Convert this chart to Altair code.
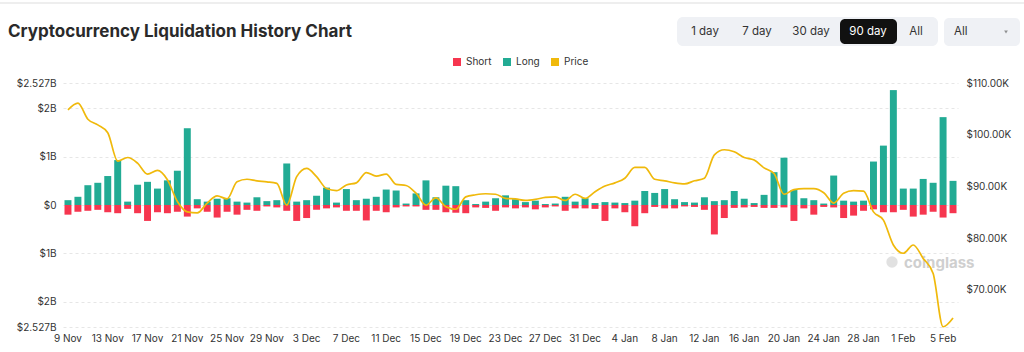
import altair as alt
import pandas as pd

# ---------------- data ----------------
dates = pd.date_range("2025-11-09", periods=90)
day_labels = [f"{d.day} {d.strftime('%b')}" for d in dates]
tick_labels = day_labels[::4]

long_vals = [0.10, 0.17, 0.41, 0.46, 0.60, 0.93, 0.07, 0.42, 0.48, 0.34, 0.51, 0.71, 1.59, 0.12, 0.07, 0.13, 0.14, 0.07, 0.05, 0.16, 0.08, 0.10, 0.86, 0.07,
             0.10, 0.19, 0.36, 0.05, 0.33, 0.10, 0.13, 0.17, 0.32, 0.30, 0.03, 0.24, 0.51, 0.16, 0.40, 0.39, 0.10, 0.02, 0.07, 0.14, 0.20, 0.12, 0.06, 0.09, 0.02,
             0.03, 0.17, 0.07, 0.14, 0.04, 0.06, 0.05, 0.04, 0.09, 0.29, 0.25, 0.33, 0.12, 0.06, 0.05, 0.16, 0.08, 0.10, 0.29, 0.13, 0.04, 0.21, 0.68, 0.98, 0.31,
             0.14, 0.10, 0.03, 0.61, 0.09, 0.07, 0.09, 0.90, 1.23, 2.38, 0.34, 0.34, 0.54, 0.46, 1.82, 0.50]

short_vals = [0.20, 0.14, 0.12, 0.10, 0.15, 0.17, 0.08, 0.17, 0.33, 0.15, 0.17, 0.14, 0.24, 0.07, 0.14, 0.26, 0.14, 0.20, 0.10, 0.12, 0.03, 0.05, 0.12, 0.33,
              0.27, 0.10, 0.07, 0.05, 0.12, 0.12, 0.32, 0.12, 0.15, 0.05, 0.03, 0.03, 0.10, 0.10, 0.15, 0.16, 0.17, 0.05, 0.06, 0.12, 0.05, 0.07, 0.05, 0.09, 0.05,
              0.03, 0.12, 0.07, 0.07, 0.08, 0.33, 0.07, 0.15, 0.44, 0.17, 0.04, 0.07, 0.07, 0.03, 0.04, 0.10, 0.61, 0.27, 0.06, 0.05, 0.04, 0.06, 0.06, 0.05, 0.33,
              0.07, 0.20, 0.04, 0.05, 0.27, 0.22, 0.12, 0.09, 0.15, 0.15, 0.10, 0.24, 0.20, 0.14, 0.26, 0.17]

price_k = [104.8, 106.1, 103.0, 101.9, 100.4, 94.9, 95.6, 94.5, 92.4, 93.1, 91.3, 87.1, 85.1, 84.9, 86.8, 88.2, 87.6, 90.9, 91.4, 91.1, 90.9, 90.6, 86.4, 91.9,
           93.5, 91.9, 89.6, 89.2, 90.3, 90.7, 92.7, 92.0, 92.4, 90.4, 90.2, 88.7, 86.4, 87.8, 86.1, 85.6, 88.0, 88.4, 88.6, 88.5, 87.7, 87.6, 87.3, 87.5, 87.9,
           88.0, 87.3, 88.5, 87.7, 89.0, 90.1, 90.7, 91.6, 93.7, 93.7, 91.4, 91.1, 90.7, 90.5, 91.1, 91.6, 96.1, 97.1, 96.7, 95.6, 95.1, 93.6, 92.5, 88.5, 89.4,
           89.6, 89.6, 88.8, 86.8, 88.7, 89.2, 89.1, 85.1, 83.5, 78.7, 77.1, 78.7, 76.1, 73.2, 62.9, 64.6]

series_names = ["Short", "Long", "Price"]
left_ticks = [-2.527, -2, -1, 0, 1, 2, 2.527]
right_ticks = [70, 80, 90, 100, 110]

bars_df = pd.DataFrame({
    "day": day_labels * 2,
    "type": ["Long"] * 90 + ["Short"] * 90,
    "value": long_vals + [-v for v in short_vals],
})
price_df = pd.DataFrame({"day": day_labels, "price": price_k})

# ---------------- style ----------------
FONT = "Inter"
RED = "#f6364f"
GREEN = "#22ab94"
YELLOW = "#f0b90b"
TXT = "#333333"

x_enc = alt.X(
    "day:O", sort=day_labels,
    scale=alt.Scale(paddingInner=0.3),
    axis=alt.Axis(values=tick_labels, title=None, labelAngle=0, domain=False, ticks=False,
                  labelPadding=6, labelFontSize=10, labelColor=TXT, labelFont=FONT, grid=False),
)

bars = alt.Chart(bars_df).mark_bar().encode(
    x=x_enc,
    y=alt.Y("value:Q",
            scale=alt.Scale(domain=[-2.527, 2.527], nice=False),
            axis=alt.Axis(values=left_ticks, title=None, domain=False, ticks=False,
                          labelExpr="datum.value == 0 ? '$0' : (abs(datum.value) > 2.5 ? '$2.527B' : '$' + abs(datum.value) + 'B')",
                          gridDash=[3, 3], gridColor="#e6e6e6", labelPadding=7,
                          labelFontSize=10, labelColor=TXT, labelFont=FONT)),
    color=alt.Color("type:N",
                    scale=alt.Scale(domain=series_names, range=[RED, GREEN, YELLOW]),
                    legend=alt.Legend(orient="none", legendX=389, legendY=-26, direction="horizontal",
                                      title=None, symbolType="square", symbolSize=64, symbolStrokeWidth=0,
                                      labelFontSize=10, labelFont=FONT, labelColor=TXT,
                                      columnPadding=10, symbolOffset=0, labelOffset=4)),
)

line = alt.Chart(price_df).mark_line(color=YELLOW, strokeWidth=1.7, interpolate="monotone").encode(
    x=alt.X("day:O", sort=day_labels),
    y=alt.Y("price:Q",
            scale=alt.Scale(domain=[62.85, 110], nice=False, zero=False),
            axis=alt.Axis(orient="right", values=right_ticks, title=None, domain=False, ticks=False,
                          grid=False, labelExpr="'$' + format(datum.value, '.2f') + 'K'",
                          labelPadding=8, labelFontSize=10, labelColor=TXT, labelFont=FONT)),
)


def one(txt):
    return alt.Chart(pd.DataFrame({"t": [txt]}))


def deco_text(txt, x, y, **kw):
    return one(txt).mark_text(text=txt, font=FONT, **kw).encode(x=alt.value(x), y=alt.value(y))


def deco_rect(x, x2, y, y2, **kw):
    return one("r").mark_rect(**kw).encode(x=alt.value(x), x2=alt.value(x2), y=alt.value(y), y2=alt.value(y2))


border = one("b").mark_rule(color="#e8e8e8", strokeWidth=1.5).encode(
    x=alt.value(-63), x2=alt.value(961), y=alt.value(-80))

title = deco_text("Cryptocurrency Liquidation History Chart", -55, -46,
                  fontSize=17, fontWeight="bold", color="#2a2a2a", align="left", baseline="alphabetic")

btn_box = deco_rect(614, 875, -66, -37, color="#eff1f5", cornerRadius=6)
btn_active = deco_rect(777, 834, -64, -39, color="#111111", cornerRadius=5)
drop_box = deco_rect(881, 957, -65, -37, color="#eff1f5", cornerRadius=5)

btn_texts = [
    deco_text("1 day", 642, -51, fontSize=11.5, color=TXT, align="center", baseline="middle"),
    deco_text("7 day", 694, -51, fontSize=11.5, color=TXT, align="center", baseline="middle"),
    deco_text("30 day", 748, -51, fontSize=11.5, color=TXT, align="center", baseline="middle"),
    deco_text("90 day", 805, -51, fontSize=11.5, color="#ffffff", align="center", baseline="middle"),
    deco_text("All", 853, -51, fontSize=11.5, color=TXT, align="center", baseline="middle"),
    deco_text("All", 891, -51, fontSize=11.5, color=TXT, align="left", baseline="middle"),
]
caret = one("c").mark_point(shape="triangle-down", filled=True, size=14, color="#666666").encode(
    x=alt.value(943), y=alt.value(-51))

watermark = deco_text("coinglass", 841, 180, fontSize=15, fontWeight="bold", color="#cfcfcf",
                      align="left", baseline="middle")
logo = one("l").mark_point(shape="circle", filled=True, size=130, color="#d4d4d4").encode(
    x=alt.value(829), y=alt.value(179))

chart = alt.layer(
    border, title, btn_box, btn_active, drop_box, *btn_texts, caret, logo, watermark,
    bars, line,
).resolve_scale(y="independent").properties(
    width=895, height=244,
    autosize=alt.AutoSizeParams(type="none"),
    padding={"left": 63, "top": 83, "right": 66, "bottom": 25},
    background="white",
).configure_view(stroke=None)

chart.save("out.html", embed_options={"renderer": "svg", "actions": False})
